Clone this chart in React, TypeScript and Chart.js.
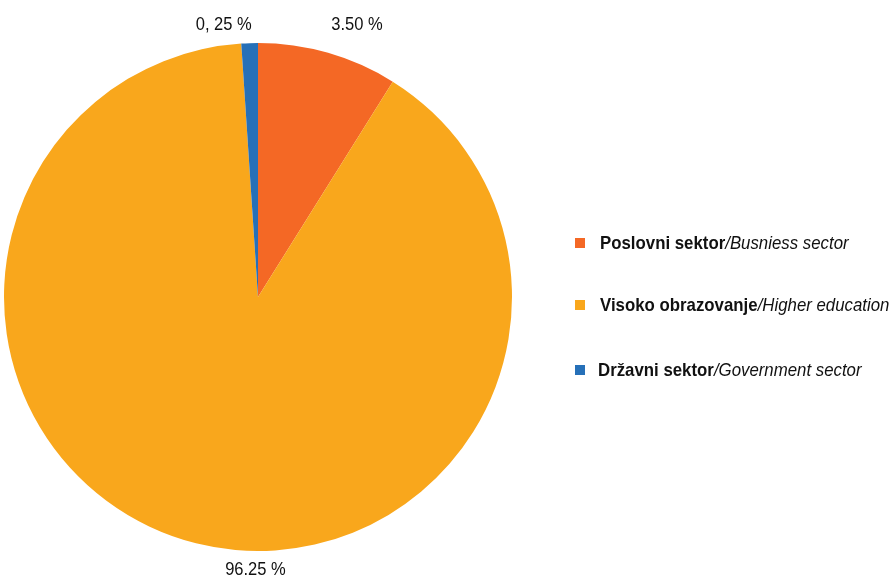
import React, { useEffect, useRef } from "react";
import { Chart, registerables } from "chart.js";

Chart.register(...registerables);

const categoriesBold = ["Poslovni sektor", "Visoko obrazovanje", "Državni sektor"];
const categoriesItalic = ["/Busniess sector", "/Higher education", "/Government sector"];
const sliceValues = [8.9, 90.05, 1.05];
const valueLabels = ["3.50 %", "96.25 %", "0, 25 %"];
const colors = ["#F46825", "#F9A71C", "#2670B8"];

// label anchor offsets relative to pie center, in units of radius
const labelOffsets = [
  [0.39, -1.07],
  [-0.01, 1.075],
  [-0.135, -1.07],
];

const FONT = '"Liberation Sans", Arial, sans-serif';

const labelPlugin = {
  id: "valueLabels",
  afterDatasetsDraw(chart: any) {
    const ctx = chart.ctx;
    const meta = chart.getDatasetMeta(0);
    meta.data.forEach((arc: any, i: number) => {
      const r = arc.outerRadius;
      const x = arc.x + labelOffsets[i][0] * r;
      const y = arc.y + labelOffsets[i][1] * r;
      ctx.save();
      ctx.font = "19px " + FONT;
      ctx.fillStyle = "#111";
      ctx.textAlign = "center";
      ctx.textBaseline = "middle";
      ctx.translate(x, y);
      ctx.scale(0.87, 1);
      ctx.fillText(valueLabels[i], 0, 0);
      ctx.restore();
    });
  },
};

export default function App() {
  const ref = useRef<HTMLCanvasElement | null>(null);
  useEffect(() => {
    if (!ref.current) return;
    const chart = new Chart(ref.current, {
      type: "pie",
      data: {
        labels: categoriesBold,
        datasets: [
          {
            data: sliceValues,
            backgroundColor: colors,
            borderWidth: 0,
          },
        ],
      },
      options: {
        animation: false,
        responsive: false,
        maintainAspectRatio: false,
        layout: { padding: { left: 4, right: 381, top: 43, bottom: 29 } },
        plugins: {
          legend: { display: false },
          tooltip: { enabled: false },
        },
      },
      plugins: [labelPlugin],
    });
    return () => chart.destroy();
  }, []);

  const legendTops = [243, 305, 370];
  const legendLefts = [600, 600, 598];

  return (
    <div style={{ position: "fixed", left: 0, top: 0, width: 893, height: 580, background: "#fff", overflow: "hidden" }}>
      <canvas ref={ref} width={893} height={580} style={{ position: "absolute", left: 0, top: 0 }} />
      {categoriesBold.map((c, i) => (
        <div key={c}>
          <div
            style={{
              position: "absolute",
              left: 575,
              top: legendTops[i] - 5,
              width: 10,
              height: 10,
              background: colors[i],
            }}
          />
          <div
            style={{
              position: "absolute",
              left: legendLefts[i],
              top: legendTops[i] - 11,
              height: 22,
              lineHeight: "22px",
              fontFamily: FONT,
              fontSize: 19,
              color: "#111",
              whiteSpace: "nowrap",
              transform: "scaleX(0.885)",
              transformOrigin: "0 50%",
            }}
          >
            <b>{c}</b>
            <i>{categoriesItalic[i]}</i>
          </div>
        </div>
      ))}
    </div>
  );
}
